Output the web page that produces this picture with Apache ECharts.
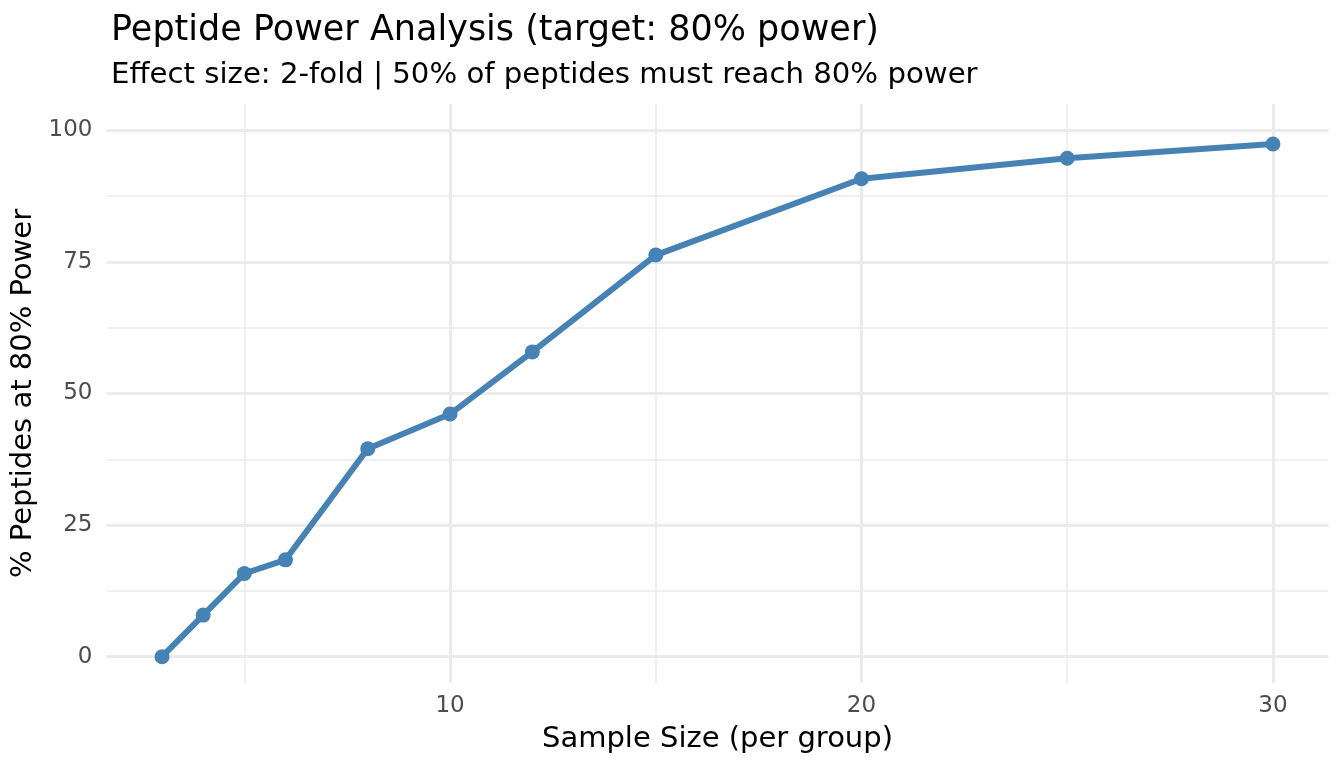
<!DOCTYPE html>
<html>
<head>
<meta charset="utf-8">
<script src="https://cdn.jsdelivr.net/npm/echarts@6/dist/echarts.min.js"></script>
<style>html,body{margin:0;padding:0;background:#fff;}#c{width:1344px;height:768px;}</style>
</head>
<body>
<div id="c"></div>
<script>
const sampleSizes = [3, 4, 5, 6, 8, 10, 12, 15, 20, 25, 30];
const pctPeptides = [0, 7.9, 15.8, 18.4, 39.5, 46.1, 57.9, 76.3, 90.8, 94.7, 97.4];
const xMajorTicks = [10, 20, 30];
const xMinorTicks = [5, 15, 25];
const yMajorTicks = [0, 25, 50, 75, 100];
const yMinorTicks = [12.5, 37.5, 62.5, 87.5];

const titleText = 'Peptide Power Analysis (target: 80% power)';
const subtitleText = 'Effect size: 2-fold | 50% of peptides must reach 80% power';
const xTitle = 'Sample Size (per group)';
const yTitle = '% Peptides at 80% Power';

const FONT = 'DejaVu Sans';
const chart = echarts.init(document.getElementById('c'));

function gridLines(vals, key, width) {
  return vals.map(v => ({ [key]: v, lineStyle: { width: width } }));
}

chart.setOption({
  animation: false,
  backgroundColor: '#ffffff',
  title: [
    { text: titleText, left: 106, top: 8,
      textStyle: { fontFamily: FONT, fontSize: 35, fontWeight: 'normal', color: '#000' } },
    { text: subtitleText, left: 106, top: 56,
      textStyle: { fontFamily: FONT, fontSize: 29.2, fontWeight: 'normal', color: '#000' } }
  ],
  grid: { left: 106.5, right: 15.5, top: 104, bottom: 85 },
  xAxis: {
    type: 'value', min: 1.65, max: 31.35,
    name: xTitle, nameLocation: 'middle', nameGap: 42,
    nameTextStyle: { fontFamily: FONT, fontSize: 29, color: '#000' },
    axisLine: { show: false }, axisTick: { show: false },
    splitLine: { show: false },
    axisLabel: { customValues: xMajorTicks, fontFamily: FONT, fontSize: 23, color: '#4D4D4D', margin: 12 }
  },
  yAxis: {
    type: 'value', min: -5, max: 105,
    name: yTitle, nameLocation: 'middle', nameGap: 66, nameRotate: 90,
    nameTextStyle: { fontFamily: FONT, fontSize: 29, color: '#000' },
    axisLine: { show: false }, axisTick: { show: false },
    splitLine: { show: false },
    axisLabel: { customValues: yMajorTicks, fontFamily: FONT, fontSize: 23, color: '#4D4D4D', margin: 14 }
  },
  series: [
    {
      type: 'line', data: [], silent: true, z: 0,
      markLine: {
        silent: true, symbol: 'none', label: { show: false }, animation: false,
        lineStyle: { color: '#EBEBEB', type: 'solid' },
        data: [].concat(
          gridLines(xMinorTicks, 'xAxis', 1.5),
          gridLines(yMinorTicks, 'yAxis', 1.5),
          gridLines(xMajorTicks, 'xAxis', 3),
          gridLines(yMajorTicks, 'yAxis', 3)
        )
      }
    },
    {
      type: 'line', z: 5,
      data: sampleSizes.map((x, i) => [x, pctPeptides[i]]),
      symbol: 'circle', symbolSize: 15, showSymbol: true,
      lineStyle: { color: '#4682B4', width: 6 },
      itemStyle: { color: '#4682B4' }
    }
  ]
});
</script>
</body>
</html>
